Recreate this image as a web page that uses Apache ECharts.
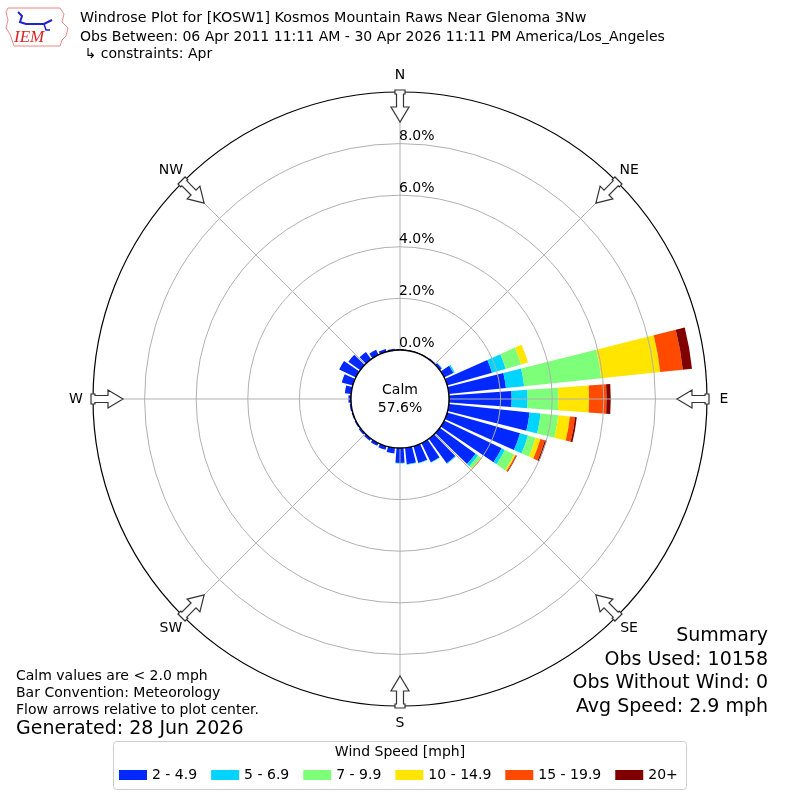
<!DOCTYPE html>
<html><head><meta charset="utf-8">
<script src="https://cdn.jsdelivr.net/npm/echarts@6/dist/echarts.min.js"></script>
<style>html,body{margin:0;padding:0;background:#fff}#c{width:800px;height:800px}</style>
</head><body><div id="c"></div>
<script>
// ---- data (percent of observations) ----
const directions = ['0','10','20','30','40','50','60','70','80','90','100','110','120','130','140','150','160','170',
  '180','190','200','210','220','230','240','250','260','270','280','290','300','310','320','330','340','350'];
const speedBins = ['2 - 4.9','5 - 6.9','7 - 9.9','10 - 14.9','15 - 19.9','20+'];
const s2_49   = [0.04,0.02,0.02,0.03,0.05,0.10,0.40,1.81,2.23,2.43,3.15,2.94,2.48,1.72,1.18,0.83,0.68,0.64,
                 0.58,0.22,0.15,0.12,0.10,0.08,0.06,0.05,0.06,0.10,0.25,0.45,0.72,0.57,0.35,0.22,0.12,0.06];
const s5_69   = [0,0,0,0,0,0.02,0.06,0.55,0.71,0.62,0.43,0.32,0.14,0.12,0.03,0.02,0.02,0.02,
                 0.02,0,0,0,0,0,0,0,0,0,0,0,0,0,0,0,0,0];
const s7_99   = [0,0,0,0,0,0,0,0.62,3.00,1.19,0.69,0.31,0.40,0.12,0,0,0,0,
                 0,0,0,0,0,0,0,0,0,0,0,0,0,0,0,0,0,0];
const s10_149 = [0,0,0,0,0,0,0,0.28,2.30,1.19,0.45,0.19,0.06,0.02,0,0,0,0,
                 0,0,0,0,0,0,0,0,0,0,0,0,0,0,0,0,0,0];
const s15_199 = [0,0,0,0,0,0,0,0,0.88,0.68,0.20,0.18,0.04,0.03,0,0,0,0,
                 0,0,0,0,0,0,0,0,0,0,0,0,0,0,0,0,0,0];
const s20p    = [0,0,0,0,0,0,0,0,0.36,0.16,0.07,0.07,0.02,0,0,0,0,0,
                 0,0,0,0,0,0,0,0,0,0,0,0,0,0,0,0,0,0];
const ringTicks = [0,2,4,6,8];
const compassAngles = [0,45,90,135,180,225,270,315];
const compassNames = ['N','NE','E','SE','S','SW','W','NW'];
const calmPct = '57.6%';
const titleLines = ['Windrose Plot for [KOSW1] Kosmos Mountain Raws Near Glenoma 3Nw',
  'Obs Between: 06 Apr 2011 11:11 AM - 30 Apr 2026 11:11 PM America/Los_Angeles',
  ' \u21b3 constraints: Apr'];
const noteLines = ['Calm values are < 2.0 mph','Bar Convention: Meteorology','Flow arrows relative to plot center.'];
const generated = 'Generated: 28 Jun 2026';
const summaryLines = ['Summary','Obs Used: 10158','Obs Without Wind: 0','Avg Speed: 2.9 mph'];

const colors = ['#0028ff','#00d4ff','#7dff7a','#ffe500','#ff4a00','#800000'];
const seriesData = [s2_49,s5_69,s7_99,s10_149,s15_199,s20p];
const FONT = 'DejaVu Sans';
const CX = 400, CY = 399, R0 = 49, R1 = 307, RL = 324;

const chart = echarts.init(document.getElementById('c'), null, {renderer:'canvas'});

// decorations
const graphics = [];
// flow arrows and compass labels
compassAngles.forEach((a,i) => {
  graphics.push({type:'polygon', x:CX, y:CY, rotation:-a*Math.PI/180, z:120,
    shape:{points:[[0,-277],[-9,-292],[-3.5,-292],[-3.5,-305],[-5,-305],[-5,-309],[5,-309],[5,-305],[3.5,-305],[3.5,-292],[9,-292]]},
    style:{fill:'#fff', stroke:'#333', lineWidth:1.2}});
  const rad = a*Math.PI/180;
  graphics.push({type:'text', x:CX+RL*Math.sin(rad), y:CY-RL*Math.cos(rad),
    style:{text:compassNames[i], font:'14px '+FONT, fill:'#000', align:'center', verticalAlign:'middle'}});
});
graphics.push({type:'circle', shape:{cx:CX, cy:CY, r:R0}, style:{fill:'#fff', stroke:'#000', lineWidth:1.3}, z:110});
graphics.push({type:'text', x:CX, y:CY-9, z:130, style:{text:'Calm', font:'14px '+FONT, fill:'#000', align:'center', verticalAlign:'middle'}});
graphics.push({type:'text', x:CX, y:CY+9, z:130, style:{text:calmPct, font:'14px '+FONT, fill:'#000', align:'center', verticalAlign:'middle'}});
titleLines.forEach((t,i)=>graphics.push({type:'text', x:80, y:[18,37,54][i], style:{text:t, font:(i===0?'14.3px ':'14.05px ')+FONT, fill:'#000', verticalAlign:'middle'}}));
noteLines.forEach((t,i)=>graphics.push({type:'text', x:16, y:[676,693,710][i], style:{text:t, font:'14px '+FONT, fill:'#000', verticalAlign:'middle'}}));
graphics.push({type:'text', x:16, y:729, style:{text:generated, font:'19px '+FONT, fill:'#000', verticalAlign:'middle'}});
summaryLines.forEach((t,i)=>graphics.push({type:'text', x:768, y:[636,660,683,707][i], style:{text:t, font:'19px '+FONT, fill:'#000', align:'right', verticalAlign:'middle'}}));
// legend box
graphics.push({type:'rect', shape:{x:113.5, y:741.5, width:573, height:48, r:3}, style:{fill:'#fff', stroke:'#ccc', lineWidth:1}, z:-1});
graphics.push({type:'text', x:400, y:752, style:{text:'Wind Speed [mph]', font:'14px '+FONT, fill:'#000', align:'center', verticalAlign:'middle'}});
// logo
graphics.push({type:'polyline', shape:{points:[[8,8],[60,8],[64,14],[62,22],[68,28],[66,36],[62,40],[60,46],[14,46],[12,40],[10,34],[6,28],[8,20],[6,12],[8,8]]}, style:{stroke:'#e88', fill:'none', lineWidth:1}});
graphics.push({type:'text', x:14, y:38, style:{text:'IEM', font:'italic 17px "Liberation Serif"', fill:'#d22', verticalAlign:'middle'}});
graphics.push({type:'polyline', shape:{points:[[18,12],[22,16],[20,22],[26,24],[44,24],[52,20]]}, style:{stroke:'#22c', fill:'none', lineWidth:2}});
graphics.push({type:'polyline', shape:{points:[[44,24],[46,30],[50,30]]}, style:{stroke:'#22c', fill:'none', lineWidth:1.5}});

const series = speedBins.map((name,i)=>({
  name, type:'bar', coordinateSystem:'polar', polarIndex:0, stack:'w',
  data: seriesData[i], barCategoryGap:'18%', itemStyle:{color:colors[i]}, z:2, silent:true
}));

chart.setOption({
  animation:false,
  textStyle:{fontFamily:FONT},
  polar:[{center:[CX,CY], radius:[R0,R1]},{center:[CX,CY], radius:[R0,R1]}],
  angleAxis:[
    {polarIndex:0, type:'category', data:directions, startAngle:95, clockwise:true,
     axisLine:{show:false}, axisTick:{show:false}, axisLabel:{show:false}, splitLine:{show:false}},
    {polarIndex:1, type:'value', min:0, max:360, interval:45, startAngle:90, clockwise:true, z:5,
     axisLine:{show:true, lineStyle:{color:'#000', width:1.2}}, axisTick:{show:false},
     axisLabel:{show:false},
     splitLine:{show:true, lineStyle:{color:'#b0b0b0', width:1}}}
  ],
  radiusAxis:[
    {polarIndex:0, type:'value', min:0, max:10, axisLine:{show:false}, axisTick:{show:false}, axisLabel:{show:false}, splitLine:{show:false}},
    {polarIndex:1, type:'value', min:0, max:10, interval:2, z:5,
     axisLine:{show:false}, axisTick:{show:false},
     axisLabel:{show:true, fontSize:14, color:'#000', fontFamily:FONT, inside:true, margin:1, align:'left', verticalAlign:'bottom',
       formatter:v=> ringTicks.indexOf(v)>=0 ? v.toFixed(1)+'%' : ''},
     splitLine:{show:true, lineStyle:{color:['transparent','#b0b0b0','#b0b0b0','#b0b0b0','#b0b0b0','transparent'], width:1}}}
  ],
  legend:{data:speedBins, left:114, top:763, itemWidth:28, itemHeight:10, itemGap:14, icon:'rect',
    textStyle:{fontSize:14, fontFamily:FONT, color:'#000'}, selectedMode:false},
  series,
  graphic:graphics
});
</script></body></html>
